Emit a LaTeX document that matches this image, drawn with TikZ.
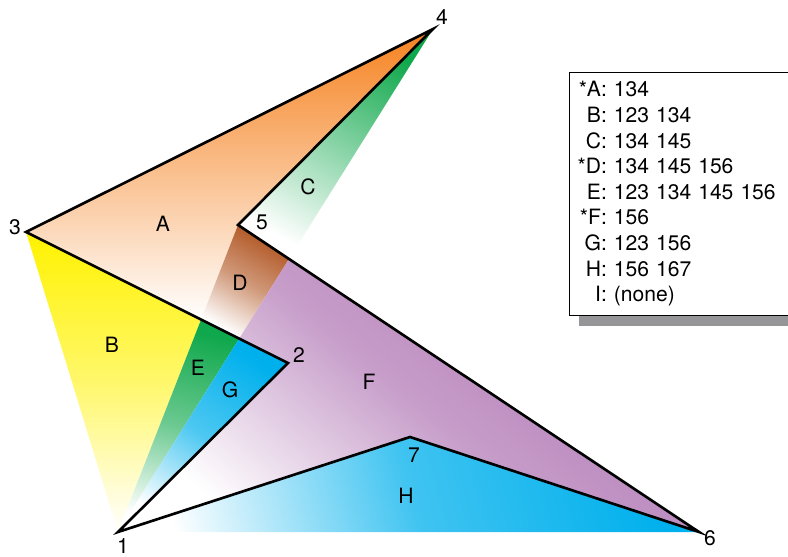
\documentclass[tikz,border=0pt]{standalone}
\usepackage{fontspec}
\setmainfont{TeX Gyre Heros}
\usepackage{xcolor}
\usetikzlibrary{calc, shadows}

\definecolor{regorange}{RGB}{245,130,32}
\definecolor{regyellow}{RGB}{255,242,0}
\definecolor{reggreen}{RGB}{16,168,76}
\definecolor{regbrown}{RGB}{176,84,32}
\definecolor{regcyan}{RGB}{0,176,236}
\definecolor{regpurple}{RGB}{176,118,180}
\definecolor{keyshadow}{RGB}{150,150,152}

\begin{document}
\begin{tikzpicture}[x=0.02cm, y=-0.02cm,
    outline/.style={line width=1.5pt, line join=miter},
    lbl/.style={font=\fontsize{12}{14.6}\selectfont, inner sep=1pt},
    keybox/.style={draw, line width=0.8pt, fill=white, anchor=north west,
      text width=4.62cm-9pt, minimum height=4.86cm, inner xsep=4.5pt, align=left,
      font=\fontsize{12}{14.6}\selectfont,
      drop shadow={shadow xshift=5.5pt, shadow yshift=-6pt, opacity=1, fill=keyshadow}}]
  \useasboundingbox (0,0) rectangle (788,557);

  % corners of the polygon
  \coordinate (p1) at (118,532);
  \coordinate (p2) at (288,363);
  \coordinate (p3) at (26,232);
  \coordinate (p4) at (433,29);
  \coordinate (p5) at (238,225);
  \coordinate (p6) at (699,532);
  \coordinate (p7) at (410,437);
  % crossings of the fan lines
  \coordinate (P) at (intersection of p1--p4 and p5--p6);
  \coordinate (Q) at (intersection of p1--p4 and p2--p3);
  \coordinate (R) at (intersection of p1--p5 and p2--p3);

  % regions
  \shade[top color=regorange, bottom color=white] (p3) -- (p4) -- (p5) -- (R) -- cycle;
  \shade[top color=regyellow, bottom color=white, middle color=regyellow!58] (p3) -- (R) -- (p1) -- cycle;
  \shade[top color=reggreen, bottom color=white, shading angle=-30] (p4) -- (p5) -- (P) -- cycle;
  \shade[top color=regbrown, bottom color=white, middle color=regbrown!60, shading angle=-30]
    (p5) -- (P) -- (Q) -- (R) -- cycle;
  \shade[top color=reggreen, bottom color=white, middle color=reggreen!62, shading angle=-15]
    (R) -- (Q) -- (p1) -- cycle;
  \shade[top color=regcyan, bottom color=white, middle color=regcyan!70, shading angle=-35]
    (Q) -- (p2) -- (p1) -- cycle;
  \shade[top color=regpurple, bottom color=white, middle color=regpurple!72, shading angle=-40]
    (P) -- (p6) -- (p7) -- (p1) -- (p2) -- (Q) -- cycle;
  \shade[top color=regcyan, bottom color=white, middle color=regcyan!75, shading angle=-75]
    (p1) -- (p7) -- (p6) -- cycle;

  \draw[outline] (p1) -- (p2) -- (p3) -- (p4) -- (p5) -- (p6) -- (p7) -- cycle;

  % corner numbers
  \node[lbl] (n1) at (123,546) {1};
  \node[lbl] (n2) at (299,355) {2};
  \node[lbl] (n3) at (15,227) {3};
  \node[lbl] (n4) at (442,17) {4};
  \node[lbl] (n5) at (262,222) {5};
  \node[lbl] (n6) at (710,538) {6};
  \node[lbl] (n7) at (414,455) {7};
  % region letters
  \node[lbl] (rA) at (163,224) {A};
  \node[lbl] (rB) at (112,345) {B};
  \node[lbl] (rC) at (308,187) {C};
  \node[lbl] (rD) at (240,283) {D};
  \node[lbl] (rE) at (198,368) {E};
  \node[lbl] (rF) at (369,382) {F};
  \node[lbl] (rG) at (230,390) {G};
  \node[lbl] (rH) at (406,496) {H};

  \node[keybox] (key) at (569,72) {%
    \begin{tabular}{@{}r@{\hspace{4pt}}l@{}}
      {*}A: & 134\\
      B: & 123 134\\
      C: & 134 145\\
      {*}D: & 134 145 156\\
      E: & 123 134 145 156\\
      {*}F: & 156\\
      G: & 123 156\\
      H: & 156 167\\
      I: & (none)
    \end{tabular}};
\end{tikzpicture}
\end{document}
